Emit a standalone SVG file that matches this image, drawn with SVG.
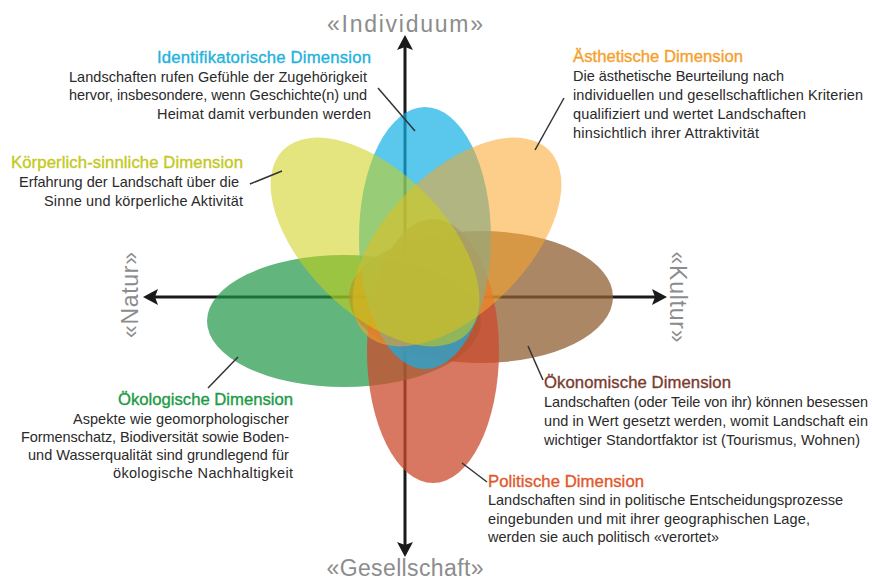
<svg xmlns="http://www.w3.org/2000/svg" width="872" height="580" viewBox="0 0 872 580">
<defs>
<style>
text{font-family:"Liberation Sans",Arial,sans-serif}
.b{font-size:14.5px;fill:#2a2a2a}
.t{font-size:16.7px;stroke-width:0.35}
.ax{font-size:23px;fill:#8c8c8c}
.axis{stroke:#1a1a1a;stroke-width:3;fill:none}
.lead{stroke:#333;stroke-width:1.5;fill:none}
</style>
<marker id="ah" viewBox="0 0 15 16" refX="7" refY="8" markerWidth="15" markerHeight="16" markerUnits="userSpaceOnUse" orient="auto-start-reverse">
<path d="M0,0 L15,8 L0,16 L3,8 Z" fill="#1a1a1a"/>
</marker>
</defs>
<rect width="872" height="580" fill="#fff"/>
<g id="axes">
<line class="axis" x1="405" y1="549" x2="405" y2="43" marker-start="url(#ah)" marker-end="url(#ah)"/>
<line class="axis" x1="151" y1="297" x2="659" y2="297" marker-start="url(#ah)" marker-end="url(#ah)"/>
<text class="ax" x="405" y="32" text-anchor="middle" textLength="156">«Individuum»</text>
<text class="ax" x="405" y="576" text-anchor="middle" textLength="157">«Gesellschaft»</text>
<text class="ax" transform="translate(138,295) rotate(-90)" text-anchor="middle" textLength="86">«Natur»</text>
<text class="ax" transform="translate(670,297) rotate(90)" text-anchor="middle" textLength="91">«Kultur»</text>
</g>
<g id="oekologisch">
<ellipse cx="344" cy="321" rx="137" ry="66" fill="#1e9646" fill-opacity="0.7"/>
<text class="t" x="293" y="405" text-anchor="end" fill="#1b9a45" stroke="#1b9a45" textLength="175">Ökologische Dimension</text>
<text class="b" text-anchor="end">
<tspan x="293" y="424" textLength="216">Aspekte wie geomorphologischer</tspan>
<tspan x="293" y="442" textLength="268">Formenschatz, Biodiversität sowie Boden-</tspan>
<tspan x="293" y="460" textLength="261">und Wasserqualität sind grundlegend für</tspan>
<tspan x="293" y="478" textLength="180">ökologische Nachhaltigkeit</tspan>
</text>
</g>
<g id="oekonomisch">
<ellipse cx="481" cy="297" rx="132" ry="66" fill="#8f5f33" fill-opacity="0.75"/>
<text class="t" x="544" y="388" fill="#7a3b2e" stroke="#7a3b2e" textLength="187">Ökonomische Dimension</text>
<text class="b">
<tspan x="544" y="407" textLength="324">Landschaften (oder Teile von ihr) können besessen</tspan>
<tspan x="544" y="426" textLength="324">und in Wert gesetzt werden, womit Landschaft ein</tspan>
<tspan x="544" y="445" textLength="316">wichtiger Standortfaktor ist (Tourismus, Wohnen)</tspan>
</text>
</g>
<g id="politisch">
<ellipse cx="433" cy="351" rx="66" ry="132" fill="#cc4b2d" fill-opacity="0.75"/>
<text class="t" x="488" y="487" fill="#e0582a" stroke="#e0582a" textLength="156">Politische Dimension</text>
<text class="b">
<tspan x="488" y="505" textLength="355">Landschaften sind in politische Entscheidungsprozesse</tspan>
<tspan x="488" y="524" textLength="322">eingebunden und mit ihrer geographischen Lage,</tspan>
<tspan x="488" y="542" textLength="231">werden sie auch politisch «verortet»</tspan>
</text>
</g>
<g id="identifikatorisch">
<ellipse cx="425" cy="238" rx="66" ry="131" fill="#14afe6" fill-opacity="0.7"/>
<text class="t" x="371" y="63" text-anchor="end" fill="#22b2dc" stroke="#22b2dc" textLength="214">Identifikatorische Dimension</text>
<text class="b" text-anchor="end">
<tspan x="371" y="82" textLength="298">Landschaften rufen Gefühle der Zugehörigkeit</tspan>
<tspan x="371" y="100" textLength="298">hervor, insbesondere, wenn Geschichte(n) und</tspan>
<tspan x="371" y="119" textLength="214">Heimat damit verbunden werden</tspan>
</text>
</g>
<g id="aesthetisch">
<ellipse cx="0" cy="0" rx="70" ry="130" transform="translate(457,242) rotate(45)" fill="#faa528" fill-opacity="0.55"/>
<text class="t" x="573" y="62" fill="#f5a02c" stroke="#f5a02c" textLength="170">Ästhetische Dimension</text>
<text class="b">
<tspan x="573" y="81" textLength="211">Die ästhetische Beurteilung nach</tspan>
<tspan x="573" y="100" textLength="290">individuellen und gesellschaftlichen Kriterien</tspan>
<tspan x="573" y="119" textLength="233">qualifiziert und wertet Landschaften</tspan>
<tspan x="573" y="138" textLength="186">hinsichtlich ihrer Attraktivität</tspan>
</text>
</g>
<g id="koerperlich">
<ellipse cx="0" cy="0" rx="70" ry="130" transform="translate(375,242) rotate(-45)" fill="#cdcf14" fill-opacity="0.55"/>
<text class="t" x="243" y="168" text-anchor="end" fill="#c4c81c" stroke="#c4c81c" textLength="232">Körperlich-sinnliche Dimension</text>
<text class="b" text-anchor="end">
<tspan x="243" y="187" textLength="220">Erfahrung der Landschaft über die</tspan>
<tspan x="243" y="206" textLength="199">Sinne und körperliche Aktivität</tspan>
</text>
</g>
<g id="connectors">
<line class="lead" x1="378" y1="88" x2="415" y2="131"/>
<line class="lead" x1="250" y1="184" x2="282" y2="171"/>
<line class="lead" x1="564" y1="98" x2="535" y2="150"/>
<line class="lead" x1="208" y1="388" x2="238" y2="357"/>
<line class="lead" x1="528" y1="346" x2="543" y2="380"/>
<line class="lead" x1="462" y1="463" x2="487" y2="482"/>
</g>
</svg>
